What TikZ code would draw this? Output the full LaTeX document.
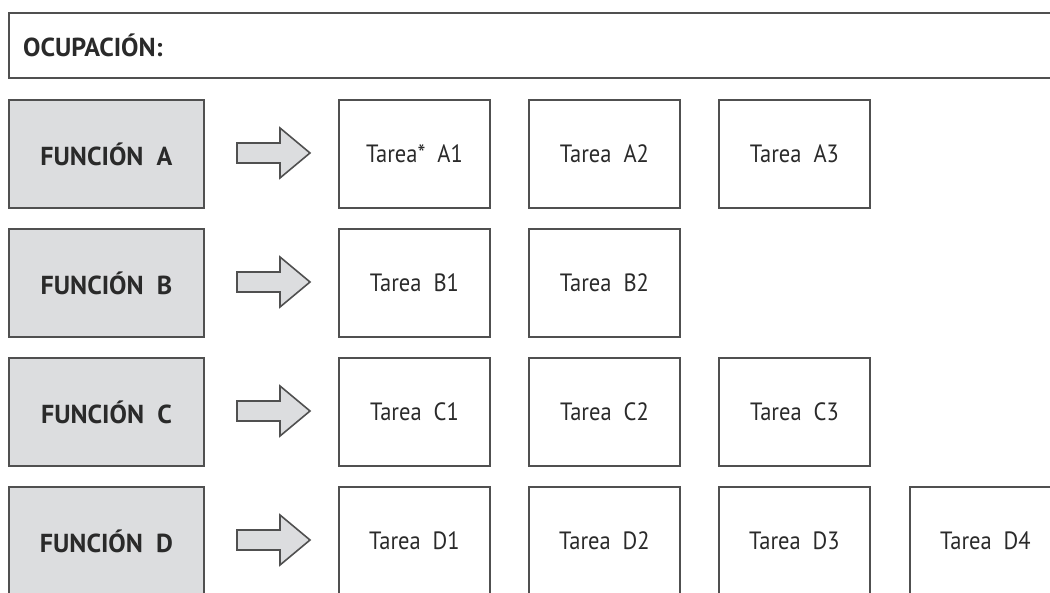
\documentclass[tikz,border=0pt]{standalone}
\usepackage{fontspec}
\setmainfont{PT Sans}[FakeStretch=0.9]
\newfontfamily\headfont{PT Sans}
\definecolor{edge}{HTML}{505050}
\definecolor{fillg}{HTML}{DCDDDF}
\definecolor{txt}{HTML}{2A2A2A}
\tikzset{
  funcbox/.style={draw=edge, line width=1.9pt, fill=fillg, minimum width=195pt, minimum height=108pt,
    inner sep=0pt, anchor=north west, font=\headfont\fontsize{26}{28}\selectfont\bfseries, text=txt},
  taskbox/.style={draw=edge, line width=1.9pt, fill=white, minimum width=151pt, minimum height=108pt,
    inner sep=0pt, anchor=north west, font=\fontsize{25}{28}\selectfont, text=txt},
  headbox/.style={draw=edge, line width=1.9pt, minimum width=1060pt, minimum height=65pt,
    inner sep=0pt, anchor=north west},
  headlabel/.style={anchor=base west, inner sep=0pt, font=\headfont\fontsize{26}{28}\selectfont\bfseries, text=txt},
  bigarrow/.style={draw=edge, line width=1.6pt, fill=fillg, line join=miter}
}
\begin{document}
\begin{tikzpicture}[x=1pt,y=-1pt]
\useasboundingbox (0,0) rectangle (1050,593);
\clip (0,0) rectangle (1050,593);
\node[headbox] (ocup) at (8,12) {};
\node[headlabel] (ocuplabel) at (23,57) {OCUPACIÓN:};
\foreach \r/\y in {A/99,B/228,C/357,D/486}{
  \node[funcbox] (f\r) at (8,\y) {FUNCIÓN~~\r};
  \draw[bigarrow] (237,\y+44) -- (280,\y+44) -- (280,\y+29) -- (310,\y+54)
     -- (280,\y+79) -- (280,\y+64) -- (237,\y+64) -- cycle;
}
\node[taskbox] (tA1) at (338,99) {Tarea*~~A1};
\node[taskbox] (tA2) at (528,99) {Tarea~~A2};
\node[taskbox] (tA3) at (718,99) {Tarea~~A3};
\node[taskbox] (tB1) at (338,228) {Tarea~~B1};
\node[taskbox] (tB2) at (528,228) {Tarea~~B2};
\node[taskbox] (tC1) at (338,357) {Tarea~~C1};
\node[taskbox] (tC2) at (528,357) {Tarea~~C2};
\node[taskbox] (tC3) at (718,357) {Tarea~~C3};
\node[taskbox] (tD1) at (338,486) {Tarea~~D1};
\node[taskbox] (tD2) at (528,486) {Tarea~~D2};
\node[taskbox] (tD3) at (718,486) {Tarea~~D3};
\node[taskbox] (tD4) at (909,486) {Tarea~~D4};
\end{tikzpicture}
\end{document}
